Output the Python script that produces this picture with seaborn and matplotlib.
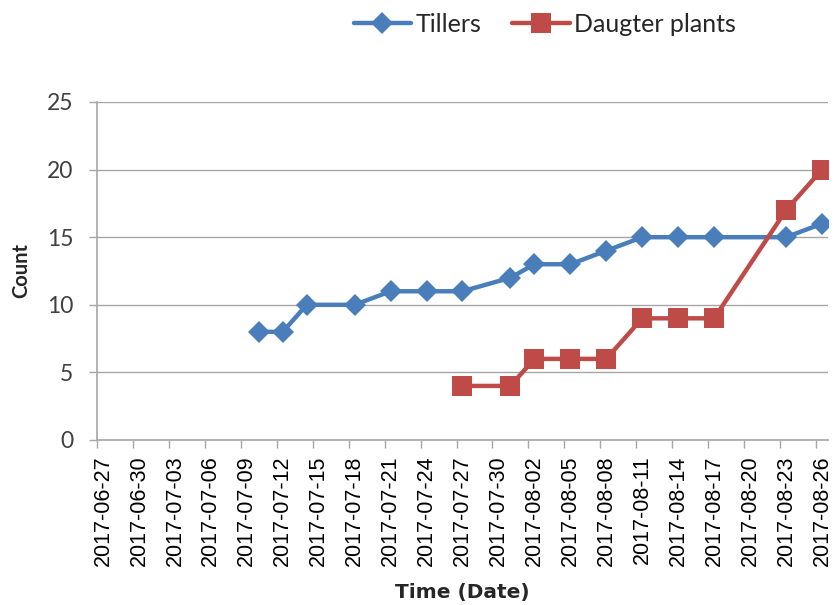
import matplotlib
matplotlib.use("Agg")
import matplotlib.pyplot as plt
import seaborn as sns
import pandas as pd

# Observation dates and counts
tiller_dates = ["2017-07-10", "2017-07-12", "2017-07-14", "2017-07-18", "2017-07-21",
                "2017-07-24", "2017-07-27", "2017-07-31", "2017-08-02", "2017-08-05",
                "2017-08-08", "2017-08-11", "2017-08-14", "2017-08-17", "2017-08-23",
                "2017-08-26"]
tiller_counts = [8, 8, 10, 10, 11, 11, 11, 12, 13, 13, 14, 15, 15, 15, 15, 16]

daughter_dates = ["2017-07-27", "2017-07-31", "2017-08-02", "2017-08-05", "2017-08-08",
                  "2017-08-11", "2017-08-14", "2017-08-17", "2017-08-23", "2017-08-26"]
daughter_counts = [4, 4, 6, 6, 6, 9, 9, 9, 17, 20]

axis_start = "2017-06-27"
axis_end = "2017-08-26"
y_ticks = [0, 5, 10, 15, 20, 25]

BLUE = "#4A7EBB"
RED = "#BE4B48"
GRID = "#A6A6A6"
TEXT = "#404040"

sns.set_theme(style="white")
plt.rcParams["font.family"] = ["Lato", "DejaVu Sans"]

tillers = pd.DataFrame({"date": pd.to_datetime(tiller_dates), "count": tiller_counts})
daughters = pd.DataFrame({"date": pd.to_datetime(daughter_dates), "count": daughter_counts})

fig = plt.figure(figsize=(8.34, 6.05), dpi=100)
ax = fig.add_axes([97 / 834, 1 - 440 / 605, 731 / 834, 338 / 605])

sns.lineplot(data=tillers, x="date", y="count", ax=ax, color=BLUE, linewidth=3.2,
             marker="D", markersize=11, markeredgecolor=BLUE, markeredgewidth=0,
             label="Tillers", zorder=3)
sns.lineplot(data=daughters, x="date", y="count", ax=ax, color=RED, linewidth=3.2,
             marker="s", markersize=14, markeredgecolor=RED, markeredgewidth=0,
             label="Daugter plants", zorder=3)

# Date axis: one slot per day, ticks on slot boundaries every 3 days
half = pd.Timedelta(hours=12)
start = pd.Timestamp(axis_start)
end = pd.Timestamp(axis_end)
ax.set_xlim(start - half, end + half)
label_days = pd.date_range(start, end, freq="3D")
ax.set_xticks([d - half for d in label_days])
ax.set_xticklabels([])
ax.set_xticks(list(label_days), minor=True)
ax.set_xticklabels([d.strftime("%Y-%m-%d") for d in label_days], minor=True, rotation=90)
ax.tick_params(axis="x", which="major", direction="out", length=6, width=1,
               color=GRID, bottom=True)
ax.tick_params(axis="x", which="minor", length=0, pad=11, bottom=True,
               labelsize=15.5, labelcolor="black", labelfontfamily="Liberation Sans")

ax.set_ylim(0, 25)
ax.set_yticks(y_ticks)
ax.set_yticklabels([str(v) for v in y_ticks])
ax.tick_params(axis="y", direction="out", length=6, width=1, color=GRID, left=True,
               pad=11, labelsize=16.5, labelcolor=TEXT)

ax.grid(axis="y", color=GRID, linewidth=1)
ax.grid(axis="x", visible=False)
ax.set_axisbelow(True)
for side in ["top", "right"]:
    ax.spines[side].set_visible(False)
for side in ["left", "bottom"]:
    ax.spines[side].set_color(GRID)
    ax.spines[side].set_linewidth(1.2)

ax.set_xlabel("Time (Date)", fontsize=14.5, fontweight="bold", family=["DejaVu Sans"],
              labelpad=12)
ax.set_ylabel("Count", fontsize=14.5, fontweight="bold", labelpad=11)

handles, labels = ax.get_legend_handles_labels()
ax.get_legend().remove()
fig.legend(handles, labels, loc="center", bbox_to_anchor=(545 / 834, 1 - 24 / 605),
           ncol=2, frameon=False, fontsize=18, handlelength=2.3, handletextpad=0.2,
           columnspacing=1.2)

fig.savefig("out.png", dpi=100)
